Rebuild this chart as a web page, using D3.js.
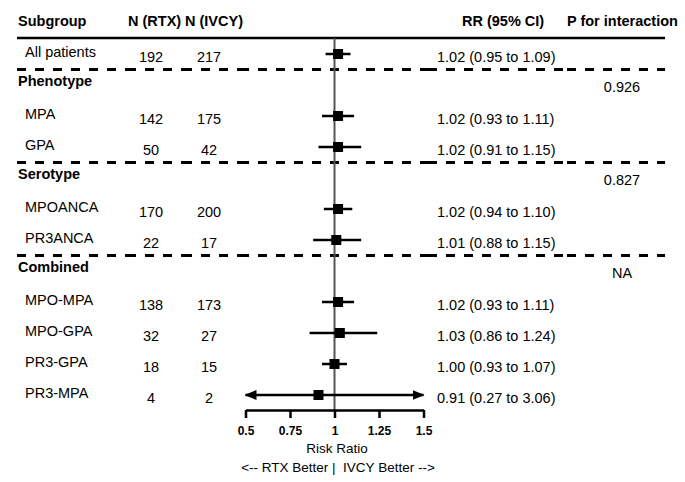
<!DOCTYPE html>
<html>
<head>
<meta charset="utf-8">
<script src="https://cdn.jsdelivr.net/npm/d3@7"></script>
<style>
  body { margin: 0; background: #fff; }
  text { font-family: "Liberation Sans", Arial, sans-serif; fill: #000; }
</style>
</head>
<body>
<svg id="chart" width="685" height="482"></svg>
<script>
// subgroup rows (row index counts group headers too)
const subgroups = ["All patients", "MPA", "GPA", "MPOANCA", "PR3ANCA", "MPO-MPA", "MPO-GPA", "PR3-GPA", "PR3-MPA"];
const rowIndex = [0, 2, 3, 5, 6, 8, 9, 10, 11];
const nRTX = [192, 142, 50, 170, 22, 138, 32, 18, 4];
const nIVCY = [217, 175, 42, 200, 17, 173, 27, 15, 2];
const rr = [1.02, 1.02, 1.02, 1.02, 1.01, 1.02, 1.03, 1.00, 0.91];
const ciLow = [0.95, 0.93, 0.91, 0.94, 0.88, 0.93, 0.86, 0.93, 0.27];
const ciHigh = [1.09, 1.11, 1.15, 1.10, 1.15, 1.11, 1.24, 1.07, 3.06];

const groups = ["Phenotype", "Serotype", "Combined"];
const groupRow = [1, 4, 7];
const pInteraction = ["0.926", "0.827", "NA"];

const tickValues = [0.5, 0.75, 1, 1.25, 1.5];

const svg = d3.select("#chart");

var x = d3.scaleLinear().domain([0.5, 1.5]).range([245.5, 423.5]);
var y = d3.scaleLinear().domain([0, 11]).range([54, 395]);
var axisY = 410;
var lineLeft = 17, lineRight = 665;

// headers
var headers = [
    {t: "Subgroup", x: 18},
    {t: "N (RTX)", x: 128},
    {t: "N (IVCY)", x: 185},
    {t: "RR (95% CI)", x: 462},
    {t: "P for interaction", x: 567}
];
svg.selectAll(".hdr").data(headers).join("text")
    .attr("class", "hdr")
    .attr("x", d => d.x).attr("y", 26)
    .attr("font-size", 14.5).attr("font-weight", "bold")
    .text(d => d.t);

svg.append("line")
    .attr("x1", lineLeft).attr("x2", lineRight)
    .attr("y1", 38).attr("y2", 38)
    .attr("stroke", "#000").attr("stroke-width", 2.5);

// dashed separators, drawn per column so the dash pattern restarts like the original
var segs = [17, 127, 183, 240, 428, 567, 665];
[0.5, 3.5, 6.5].forEach(function(r) {
    for (var i = 0; i < segs.length - 1; i++) {
        svg.append("line")
            .attr("x1", segs[i]).attr("x2", segs[i + 1])
            .attr("y1", y(r)).attr("y2", y(r))
            .attr("stroke", "#000").attr("stroke-width", 3)
            .attr("stroke-dasharray", "9 9");
    }
});

// group headers + p for interaction
svg.selectAll(".grp").data(groups).join("text")
    .attr("class", "grp")
    .attr("x", 18).attr("y", (d, i) => y(groupRow[i]) + 1)
    .attr("font-size", 14.5).attr("font-weight", "bold")
    .text(d => d);

svg.selectAll(".pval").data(pInteraction).join("text")
    .attr("class", "pval")
    .attr("x", 622).attr("y", (d, i) => y(groupRow[i]) + 7)
    .attr("text-anchor", "middle").attr("font-size", 14.5)
    .text(d => d);

// row labels and counts
svg.selectAll(".lab").data(subgroups).join("text")
    .attr("class", "lab")
    .attr("x", 25).attr("y", (d, i) => y(rowIndex[i]) + 3)
    .attr("font-size", 14.5)
    .text(d => d);

svg.selectAll(".nrtx").data(nRTX).join("text")
    .attr("class", "nrtx")
    .attr("x", 151).attr("y", (d, i) => y(rowIndex[i]) + 8)
    .attr("text-anchor", "middle").attr("font-size", 14.5)
    .text(d => d);

svg.selectAll(".nivcy").data(nIVCY).join("text")
    .attr("class", "nivcy")
    .attr("x", 209).attr("y", (d, i) => y(rowIndex[i]) + 8)
    .attr("text-anchor", "middle").attr("font-size", 14.5)
    .text(d => d);

svg.selectAll(".rrtxt").data(rr).join("text")
    .attr("class", "rrtxt")
    .attr("x", 437).attr("y", (d, i) => y(rowIndex[i]) + 8)
    .attr("font-size", 14.5)
    .text((d, i) => d.toFixed(2) + " (" + ciLow[i].toFixed(2) + " to " + ciHigh[i].toFixed(2) + ")");

// reference line at RR = 1
svg.append("line")
    .attr("x1", x(1)).attr("x2", x(1))
    .attr("y1", 38).attr("y2", axisY)
    .attr("stroke", "#555").attr("stroke-width", 2);

// arrow heads for clipped intervals
var defs = svg.append("defs");
defs.append("marker").attr("id", "arr")
    .attr("viewBox", "0 0 12 10").attr("refX", 11).attr("refY", 5)
    .attr("markerWidth", 12).attr("markerHeight", 10)
    .attr("markerUnits", "userSpaceOnUse")
    .attr("orient", "auto-start-reverse")
    .append("path").attr("d", "M0,0 L12,5 L0,10 Z").attr("fill", "#000");

var dom = x.domain();
svg.selectAll(".ci").data(rr).join("line")
    .attr("class", "ci")
    .attr("x1", (d, i) => x(Math.max(ciLow[i], dom[0])))
    .attr("x2", (d, i) => x(Math.min(ciHigh[i], dom[1])))
    .attr("y1", (d, i) => y(rowIndex[i]))
    .attr("y2", (d, i) => y(rowIndex[i]))
    .attr("stroke", "#000").attr("stroke-width", 2.5)
    .attr("marker-start", (d, i) => ciLow[i] < dom[0] ? "url(#arr)" : null)
    .attr("marker-end", (d, i) => ciHigh[i] > dom[1] ? "url(#arr)" : null);

var sq = 10;
svg.selectAll(".pt").data(rr).join("rect")
    .attr("class", "pt")
    .attr("x", d => x(d) - sq / 2)
    .attr("y", (d, i) => y(rowIndex[i]) - sq / 2)
    .attr("width", sq).attr("height", sq)
    .attr("fill", "#000");

// x axis
var axis = svg.append("g").attr("transform", "translate(0," + axisY + ")")
    .call(d3.axisBottom(x).tickValues(tickValues).tickSize(8).tickSizeOuter(0)
        .tickFormat(d3.format("~g")));
axis.select(".domain").attr("stroke", "#000").attr("stroke-width", 2.5);
axis.selectAll(".tick line").attr("stroke", "#000").attr("stroke-width", 2.5);
axis.selectAll(".tick text")
    .attr("font-size", 12).attr("font-weight", "bold")
    .attr("font-family", "Liberation Sans, Arial, sans-serif")
    .attr("fill", "#000").attr("y", 14).attr("dy", "0.9em");

svg.append("text")
    .attr("x", 337).attr("y", 453)
    .attr("text-anchor", "middle").attr("font-size", 13.5)
    .text("Risk Ratio");

svg.append("text")
    .attr("x", 338).attr("y", 472)
    .attr("text-anchor", "middle").attr("font-size", 13.5)
    .attr("xml:space", "preserve")
    .text("<-- RTX Better |  IVCY Better -->");
</script>
</body>
</html>
